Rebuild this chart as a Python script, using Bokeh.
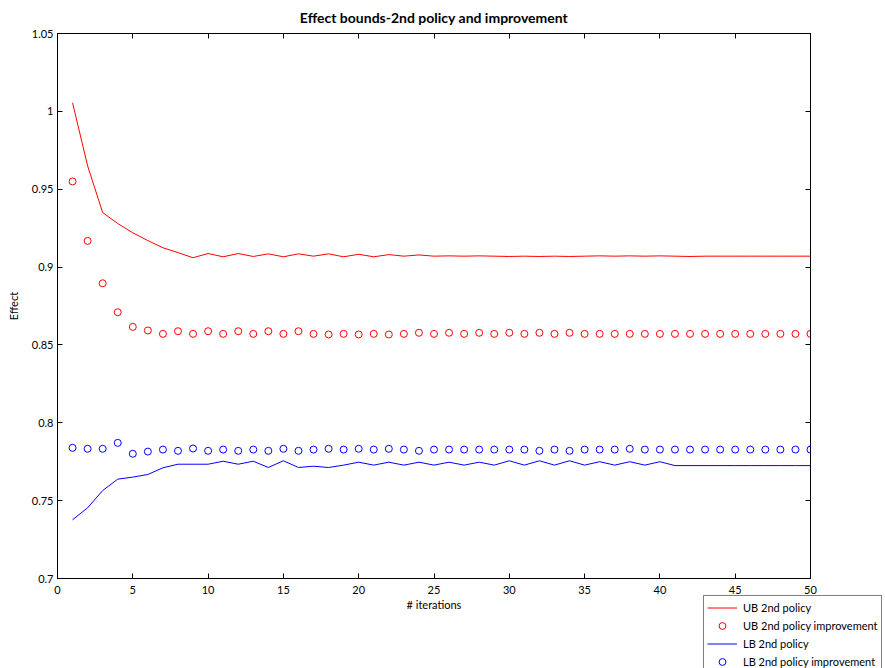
from bokeh.plotting import figure
from bokeh.layouts import column
from bokeh.models import (ColumnDataSource, LinearAxis, FixedTicker, Legend, LegendItem,
                          Range1d, CustomJSTickFormatter)
from bokeh.embed import file_html
from bokeh.resources import INLINE

iterations = list(range(1, 51))

ub_policy = [1.0055, 0.965, 0.935, 0.928, 0.922, 0.917, 0.9124, 0.9093, 0.906, 0.9087,
             0.9066, 0.9087, 0.9068, 0.9085, 0.9066, 0.9085, 0.9070, 0.9085, 0.9066, 0.9082,
             0.9066, 0.9080, 0.9070, 0.9078, 0.9070, 0.9072, 0.9070, 0.9072, 0.9070, 0.9068,
             0.9070, 0.9068, 0.9070, 0.9068, 0.9070, 0.9072, 0.9070, 0.9072, 0.9070, 0.9072,
             0.9070, 0.9068, 0.9070, 0.9070, 0.9070, 0.9070, 0.9070, 0.9070, 0.9070, 0.9070]

ub_improve = [0.955, 0.9168, 0.8896, 0.871, 0.8616, 0.8593, 0.8571, 0.8588, 0.8571, 0.8588,
              0.8571, 0.8588, 0.8571, 0.8588, 0.8571, 0.8588, 0.8571, 0.8567, 0.8571, 0.8567,
              0.8571, 0.8567, 0.8571, 0.8578, 0.8571, 0.8578, 0.8571, 0.8578, 0.8571, 0.8578,
              0.8571, 0.8578, 0.8571, 0.8578, 0.8571, 0.8571, 0.8571, 0.8571, 0.8571, 0.8571,
              0.8571, 0.8571, 0.8571, 0.8571, 0.8571, 0.8571, 0.8571, 0.8571, 0.8571, 0.8571]

lb_policy = [0.7377, 0.7454, 0.7565, 0.7638, 0.7651, 0.7668, 0.7711, 0.7734, 0.7734, 0.7734,
             0.7753, 0.7734, 0.7753, 0.7713, 0.7756, 0.7713, 0.7721, 0.7713, 0.7728, 0.7747,
             0.7728, 0.7747, 0.7728, 0.7747, 0.7728, 0.7747, 0.7728, 0.7747, 0.7728, 0.7756,
             0.7728, 0.7756, 0.7728, 0.7756, 0.7728, 0.7750, 0.7728, 0.7750, 0.7728, 0.7750,
             0.7725, 0.7725, 0.7725, 0.7725, 0.7725, 0.7725, 0.7725, 0.7725, 0.7725, 0.7725]

lb_improve = [0.7839, 0.7833, 0.7833, 0.7871, 0.7801, 0.7815, 0.7828, 0.7820, 0.7835, 0.7820,
              0.7828, 0.7820, 0.7828, 0.7820, 0.7833, 0.7820, 0.7828, 0.7833, 0.7828, 0.7833,
              0.7828, 0.7833, 0.7828, 0.7820, 0.7828, 0.7828, 0.7828, 0.7828, 0.7828, 0.7828,
              0.7828, 0.7820, 0.7828, 0.7820, 0.7828, 0.7828, 0.7828, 0.7833, 0.7828, 0.7828,
              0.7828, 0.7828, 0.7828, 0.7828, 0.7828, 0.7828, 0.7828, 0.7828, 0.7828, 0.7828]

x_ticks = [0, 5, 10, 15, 20, 25, 30, 35, 40, 45, 50]
y_ticks = [0.7, 0.75, 0.8, 0.85, 0.9, 0.95, 1.0, 1.05]
y_tick_labels = ["0.7", "0.75", "0.8", "0.85", "0.9", "0.95", "1", "1.05"]

title_text = "Effect bounds-2nd policy and improvement"
legend_labels = ["UB 2nd policy", "UB 2nd policy improvement",
                 "LB 2nd policy", "LB 2nd policy improvement"]

FONT = "Lato"
RED = "#ff0000"
BLUE = "#0000ff"

src = ColumnDataSource(dict(x=iterations, ub=ub_policy, ubi=ub_improve,
                            lb=lb_policy, lbi=lb_improve))

p = figure(width=885, height=668, output_backend="svg", toolbar_location=None,
           x_range=Range1d(0, 50), y_range=Range1d(0.7, 1.05),
           min_border_left=57, min_border_right=75, min_border_top=33,
           min_border_bottom=90, title=title_text)
p.frame_align = False
p.title.align = "center"
p.title.text_font = FONT
p.title.text_font_size = "14px"
p.title.text_font_style = "bold"
p.title.text_color = "black"
p.title.offset = 0
p.title.standoff = 12
p.title.vertical_align = "top"

p.xgrid.visible = False
p.ygrid.visible = False
p.outline_line_color = "black"
p.outline_line_width = 1
p.background_fill_color = "white"
p.border_fill_color = "white"

def style_axis(ax):
    ax.axis_line_color = "black"
    ax.axis_line_width = 1
    ax.major_tick_in = 5
    ax.major_tick_out = 0
    ax.minor_tick_line_color = None
    ax.major_tick_line_color = "black"
    ax.major_label_text_font = FONT
    ax.major_label_text_font_size = "11px"
    ax.major_label_text_color = "black"
    ax.axis_label_text_font = FONT
    ax.axis_label_text_font_size = "11px"
    ax.axis_label_text_font_style = "normal"
    ax.axis_label_text_color = "black"

xa = p.xaxis[0]
xa.ticker = FixedTicker(ticks=x_ticks)
xa.axis_label = "# iterations"
style_axis(xa)
xa.major_label_standoff = 7
xa.axis_label_standoff = 1

ya = p.yaxis[0]
ya.ticker = FixedTicker(ticks=y_ticks)
ya.major_label_overrides = {t: l for t, l in zip(y_ticks, y_tick_labels)}
ya.axis_label = "Effect"
style_axis(ya)
ya.major_label_standoff = 4
ya.axis_label_standoff = 9

blank = CustomJSTickFormatter(code="return ''")
top = LinearAxis(ticker=FixedTicker(ticks=x_ticks), formatter=blank)
style_axis(top)
top.major_label_standoff = 0
p.add_layout(top, "above")
right = LinearAxis(ticker=FixedTicker(ticks=y_ticks), formatter=blank)
style_axis(right)
right.major_label_standoff = 0
p.add_layout(right, "right")

def add_series(fig):
    r1 = fig.line("x", "ub", source=src, line_color=RED, line_width=1)
    r2 = fig.scatter("x", "ubi", source=src, marker="circle", size=7,
                     line_color=RED, fill_alpha=0, line_width=1)
    r3 = fig.line("x", "lb", source=src, line_color=BLUE, line_width=1)
    r4 = fig.scatter("x", "lbi", source=src, marker="circle", size=7,
                     line_color=BLUE, fill_alpha=0, line_width=1)
    return [r1, r2, r3, r4]

add_series(p)

# legend box that sits over the lower right corner, outside the axes frame.
# Its own copies of the series are squeezed against the left edge of its
# frame, where the opaque legend box hides them.
leg_fig = figure(width=182, height=73, output_backend="svg", toolbar_location=None,
                 x_range=Range1d(0, 5000), y_range=Range1d(0.7, 1.05),
                 x_axis_location=None, y_axis_location=None, min_border=0,
                 margin=(-73, 0, 0, 703))
leg_fig.frame_align = False
leg_fig.xgrid.visible = False
leg_fig.ygrid.visible = False
leg_fig.outline_line_color = None
leg_fig.background_fill_alpha = 0
leg_fig.border_fill_alpha = 0
leg_renderers = add_series(leg_fig)

legend = Legend(items=[LegendItem(label=lab, renderers=[r])
                       for lab, r in zip(legend_labels, leg_renderers)],
                location="top_left")
legend.label_text_font = FONT
legend.label_text_font_size = "11px"
legend.label_text_color = "black"
legend.glyph_width = 30
legend.glyph_height = 17
legend.label_height = 17
legend.spacing = 1
legend.padding = 3
legend.margin = 0
legend.label_standoff = 6
legend.border_line_color = "black"
legend.border_line_width = 1
legend.background_fill_color = "white"
legend.background_fill_alpha = 1
leg_fig.add_layout(legend, "center")

layout = column(p, leg_fig, spacing=0)
open("out.html", "w").write(file_html(layout, INLINE))
